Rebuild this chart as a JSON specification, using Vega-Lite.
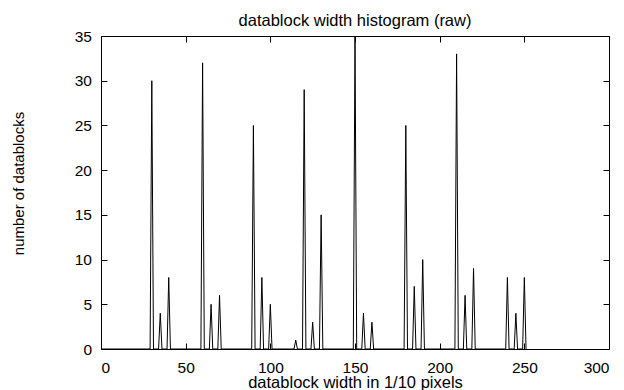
{
  "$schema": "https://vega.github.io/schema/vega-lite/v6.json",
  "width": 508,
  "height": 313,
  "autosize": {"type": "none"},
  "padding": {"left": 101, "top": 36, "right": 15, "bottom": 41},
  "background": "white",
  "config": {
    "font": "Liberation Sans",
    "view": {"stroke": "black", "strokeWidth": 1},
    "axis": {"grid": false, "domainColor": "black", "tickColor": "black", "labelColor": "black", "titleColor": "black", "labelFontSize": 15.5, "titleFontSize": 16.5, "titleFontWeight": "normal", "labelFont": "Liberation Sans", "titleFont": "Liberation Sans"}
  },
  "title": {"text": "datablock width histogram (raw)", "fontSize": 16.5, "fontWeight": "normal", "font": "Liberation Sans", "color": "black", "baseline": "alphabetic", "offset": -13},
  "data": {"values": [
    {"w": 0, "n": 0}, {"w": 29, "n": 0}, {"w": 30, "n": 30}, {"w": 31, "n": 0},
    {"w": 34, "n": 0}, {"w": 35, "n": 4}, {"w": 36, "n": 0},
    {"w": 39, "n": 0}, {"w": 40, "n": 8}, {"w": 41, "n": 0},
    {"w": 59, "n": 0}, {"w": 60, "n": 32}, {"w": 61, "n": 0},
    {"w": 64, "n": 0}, {"w": 65, "n": 5}, {"w": 66, "n": 0},
    {"w": 69, "n": 0}, {"w": 70, "n": 6}, {"w": 71, "n": 0},
    {"w": 89, "n": 0}, {"w": 90, "n": 25}, {"w": 91, "n": 0},
    {"w": 94, "n": 0}, {"w": 95, "n": 8}, {"w": 96, "n": 0},
    {"w": 99, "n": 0}, {"w": 100, "n": 5}, {"w": 101, "n": 0},
    {"w": 114, "n": 0}, {"w": 115, "n": 1}, {"w": 116, "n": 0},
    {"w": 119, "n": 0}, {"w": 120, "n": 29}, {"w": 121, "n": 0},
    {"w": 124, "n": 0}, {"w": 125, "n": 3}, {"w": 126, "n": 0},
    {"w": 129, "n": 0}, {"w": 130, "n": 15}, {"w": 131, "n": 0},
    {"w": 149, "n": 0}, {"w": 150, "n": 40}, {"w": 151, "n": 0},
    {"w": 154, "n": 0}, {"w": 155, "n": 4}, {"w": 156, "n": 0},
    {"w": 159, "n": 0}, {"w": 160, "n": 3}, {"w": 161, "n": 0},
    {"w": 179, "n": 0}, {"w": 180, "n": 25}, {"w": 181, "n": 0},
    {"w": 184, "n": 0}, {"w": 185, "n": 7}, {"w": 186, "n": 0},
    {"w": 189, "n": 0}, {"w": 190, "n": 10}, {"w": 191, "n": 0},
    {"w": 209, "n": 0}, {"w": 210, "n": 33}, {"w": 211, "n": 0},
    {"w": 214, "n": 0}, {"w": 215, "n": 6}, {"w": 216, "n": 0},
    {"w": 219, "n": 0}, {"w": 220, "n": 9}, {"w": 221, "n": 0},
    {"w": 239, "n": 0}, {"w": 240, "n": 8}, {"w": 241, "n": 0},
    {"w": 244, "n": 0}, {"w": 245, "n": 4}, {"w": 246, "n": 0},
    {"w": 249, "n": 0}, {"w": 250, "n": 8}, {"w": 251, "n": 0}
  ]},
  "resolve": {"axis": {"x": "independent", "y": "independent"}},
  "layer": [
    {
      "mark": {"type": "line", "color": "black", "strokeWidth": 1, "clip": true, "interpolate": "linear"},
      "encoding": {
        "x": {"field": "w", "type": "quantitative", "scale": {"domain": [0, 300], "nice": false}, "axis": {"orient": "bottom", "title": "datablock width in 1/10 pixels", "values": [0, 50, 100, 150, 200, 250, 300], "tickSize": -6, "labelPadding": 29, "labelBaseline": "alphabetic", "titleBaseline": "alphabetic", "titleY": 38.5, "domain": false}},
        "y": {"field": "n", "type": "quantitative", "scale": {"domain": [0, 35], "nice": false, "clamp": true}, "axis": {"orient": "left", "title": "number of datablocks", "titleFontSize": 15, "values": [0, 5, 10, 15, 20, 25, 30, 35], "tickSize": -6, "labelPadding": 15.5, "titleBaseline": "alphabetic", "titleX": -78, "titleY": 147, "domain": false}}
      }
    },
    {
      "transform": [{"filter": "datum.n <= 35"}],
      "mark": {"type": "point", "opacity": 0},
      "encoding": {
        "x": {"field": "w", "type": "quantitative", "scale": {"domain": [0, 300], "nice": false}, "axis": {"orient": "top", "labels": false, "title": null, "values": [0, 50, 100, 150, 200, 250, 300], "tickSize": -6, "domain": false}},
        "y": {"field": "n", "type": "quantitative", "scale": {"domain": [0, 35], "nice": false, "clamp": true}, "axis": {"orient": "right", "labels": false, "title": null, "values": [0, 5, 10, 15, 20, 25, 30, 35], "tickSize": -6, "domain": false}}
      }
    }
  ]
}
